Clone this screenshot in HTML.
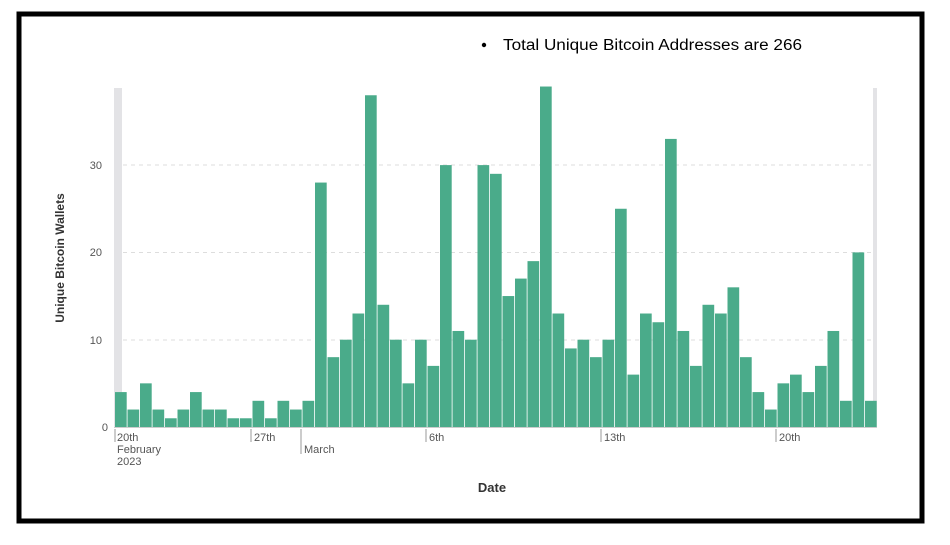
<!DOCTYPE html>
<html><head><meta charset="utf-8"><style>
html,body{margin:0;padding:0;background:#fff;width:950px;height:545px;overflow:hidden}
</style></head><body>
<svg width="950" height="545" xmlns="http://www.w3.org/2000/svg" font-family="Liberation Sans, sans-serif">
<rect x="0" y="0" width="950" height="545" fill="#fff"/>
<rect x="19" y="14" width="903" height="507" fill="none" stroke="#000" stroke-width="5"/>
<circle cx="484" cy="45" r="2.2" fill="#000"/>
<text x="503" y="50" font-size="15.5" fill="#000" textLength="299" lengthAdjust="spacingAndGlyphs">Total Unique Bitcoin Addresses are 266</text>
<!-- grid -->
<g stroke="#ddd" stroke-dasharray="4,4" stroke-width="1">
<line x1="115" x2="877" y1="340" y2="340"/>
<line x1="115" x2="877" y1="252.5" y2="252.5"/>
<line x1="115" x2="877" y1="165" y2="165"/>
</g>
<rect x="114" y="88" width="8" height="339" fill="#e3e3e6"/>
<rect x="873" y="88" width="4" height="339" fill="#e3e3e6"/>
<g id="bars" fill="#4aab8a"></g>
<line x1="114" x2="877" y1="427.5" y2="427.5" stroke="#ccc"/>
<g font-size="11" fill="#555">
<text x="108" y="431" text-anchor="end">0</text>
<text x="102" y="344" text-anchor="end">10</text>
<text x="102" y="256" text-anchor="end">20</text>
<text x="102" y="169" text-anchor="end">30</text>
<g stroke="#999"><line x1="115" x2="115" y1="429" y2="442"/><line x1="251" x2="251" y1="429" y2="442"/><line x1="301" x2="301" y1="429" y2="454"/><line x1="426" x2="426" y1="429" y2="442"/><line x1="601" x2="601" y1="429" y2="442"/><line x1="776" x2="776" y1="429" y2="442"/></g>
<text x="117" y="441">20th</text>
<text x="117" y="453">February</text>
<text x="117" y="465">2023</text>
<text x="254" y="441">27th</text>
<text x="304" y="453">March</text>
<text x="429" y="441">6th</text>
<text x="604" y="441">13th</text>
<text x="779" y="441">20th</text>
</g>
<text x="492" y="492" font-size="13" font-weight="bold" fill="#333" text-anchor="middle">Date</text>
<text transform="translate(64,258) rotate(-90)" font-size="12" font-weight="bold" fill="#333" text-anchor="middle">Unique Bitcoin Wallets</text>
</svg>
<script>
var v=[4,2,5,2,1,2,4,2,2,1,1,3,1,3,2,3,28,8,10,13,38,14,10,5,10,7,30,11,10,30,29,15,17,19,39,13,9,10,8,10,25,6,13,12,33,11,7,14,13,16,8,4,2,5,6,4,7,11,3,20,3];
var g=document.getElementById('bars'),s='';
for(var i=0;i<v.length;i++){var h=v[i]*8.73;s+='<rect x="'+(115+i*12.5)+'" y="'+(427-h)+'" width="11.7" height="'+h+'"/>';}
g.innerHTML=s;
</script>
</body></html>
